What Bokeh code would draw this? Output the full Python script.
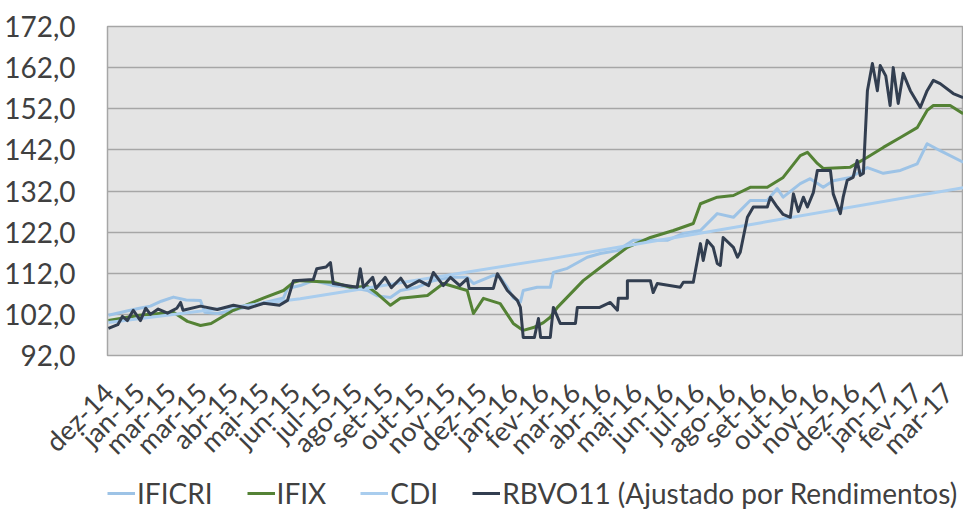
import math
from bokeh.plotting import figure
from bokeh.layouts import column
from bokeh.models import Range1d, FixedTicker, Legend, LegendItem
from bokeh.embed import file_html
from bokeh.resources import INLINE

# ---- data (x in category-label index units) ----
month_labels = ["dez-14", "jan-15", "mar-15", "mar-15", "abr-15", "mai-15", "jun-15",
                "jul-15", "ago-15", "set-15", "out-15", "nov-15", "dez-15", "jan-16",
                "fev-16", "mar-16", "abr-16", "mai-16", "jun-16", "jul-16", "ago-16",
                "set-16", "out-16", "nov-16", "dez-16", "jan-17", "fev-17", "mar-17"]

y_ticks = [92, 102, 112, 122, 132, 142, 152, 162, 172]
y_tick_labels = ["92,0", "102,0", "112,0", "122,0", "132,0", "142,0", "152,0", "162,0", "172,0"]

ificri_x = [0, 0.6, 1.0, 1.35, 1.7, 2.09, 2.5, 2.96, 3.1, 3.5, 4.02, 4.8, 5.63, 5.76, 6.17,
            6.59, 7.23, 7.78, 8.33, 8.65, 9.07, 9.39, 9.94, 10.45, 11.0, 11.54, 11.74, 12.38,
            12.6, 12.83, 13.02, 13.25, 13.34, 13.79, 14.21, 14.31, 14.76, 15.40, 15.82, 16.37,
            16.88, 17.43, 17.97, 18.49, 19.04, 19.58, 20.10, 20.64, 21.19, 21.51, 21.70, 22.25,
            22.57, 22.99, 23.31, 23.86, 24.41, 24.92, 25.47, 26.01, 26.33, 26.75, 27.49]
ificri_y = [101.8, 102.8, 103.5, 104.0, 105.2, 106.2, 105.5, 105.4, 102.5, 102.2, 103.0, 104.5,
            106.0, 108.3, 109.0, 110.2, 109.0, 108.6, 107.8, 106.5, 106.1, 107.8, 108.6, 110.2,
            111.0, 111.0, 109.5, 111.5, 111.0, 108.6, 106.0, 105.0, 107.8, 108.6, 108.6, 112.2,
            113.2, 115.9, 116.8, 117.5, 120.0, 120.0, 120.0, 121.7, 122.4, 126.5, 125.6, 129.7,
            129.7, 132.6, 130.5, 133.8, 135.0, 132.9, 134.5, 135.3, 137.7, 136.3, 137.0, 138.6,
            143.5, 141.8, 139.0]

ifix_x = [0, 1.0, 2.09, 2.54, 2.96, 3.3, 4.02, 5.0, 5.63, 5.95, 6.17, 7.23, 7.78, 8.33, 8.65,
          9.07, 9.39, 10.26, 10.77, 11.54, 11.74, 12.06, 12.6, 13.02, 13.34, 13.67, 13.99, 14.21,
          14.44, 15.27, 15.82, 16.69, 17.43, 18.17, 18.81, 19.04, 19.58, 20.10, 20.64, 21.19,
          21.70, 22.25, 22.48, 22.80, 22.99, 23.86, 24.41, 24.92, 25.47, 26.01, 26.33, 26.53,
          27.07, 27.49]
ifix_y = [100.5, 101.8, 102.5, 100.3, 99.3, 99.8, 103.0, 106.0, 107.8, 109.8, 110.2, 109.8,
          108.6, 108.8, 107.0, 104.2, 105.9, 106.6, 109.5, 107.8, 102.2, 105.9, 104.6, 99.8,
          98.1, 98.8, 100.0, 101.3, 103.7, 110.2, 113.4, 118.3, 120.7, 122.4, 124.1, 128.9,
          130.5, 130.9, 132.9, 132.9, 135.3, 140.6, 141.4, 138.7, 137.5, 137.8, 140.2, 142.6,
          145.0, 147.4, 151.6, 152.8, 152.8, 150.8]

cdi_x = [0, 6.17, 14.21, 21.0, 27.49]
cdi_y = [100.0, 105.8, 115.5, 124.3, 132.8]

rbvo_x = [0, 0.3, 0.45, 0.61, 0.8, 1.03, 1.2, 1.35, 1.6, 1.9, 2.2, 2.32, 2.4, 2.96, 3.5, 4.02,
          4.5, 5.0, 5.5, 5.76, 5.95, 6.59, 6.7, 7.0, 7.14, 7.23, 8.0, 8.10, 8.2, 8.5, 8.6, 8.9,
          9.1, 9.4, 9.6, 10.0, 10.3, 10.45, 10.77, 11.0, 11.3, 11.54, 11.6, 12.38, 12.51, 12.83,
          13.15, 13.25, 13.34, 13.7, 13.83, 13.9, 14.21, 14.31, 14.53, 15.02, 15.08, 15.8, 16.14,
          16.37, 16.40, 16.69, 16.69, 17.43, 17.52, 17.65, 18.39, 18.49, 18.81, 19.04, 19.13,
          19.26, 19.45, 19.58, 19.68, 19.77, 20.10, 20.23, 20.32, 20.55, 20.74, 21.19, 21.29,
          21.51, 21.70, 21.93, 22.03, 22.19, 22.35, 22.48, 22.67, 22.80, 23.22, 23.31, 23.54,
          23.63, 23.76, 23.95, 24.08, 24.18, 24.28, 24.41, 24.57, 24.73, 24.82, 25.0, 25.14,
          25.24, 25.40, 25.56, 25.79, 26.11, 26.33, 26.53, 26.75, 27.17, 27.49]
rbvo_y = [98.6, 99.5, 101.5, 100.5, 103.0, 100.5, 103.5, 102.0, 103.3, 102.3, 103.5, 104.9,
          103.0, 104.0, 103.2, 104.2, 103.5, 104.7, 104.2, 105.4, 110.2, 110.5, 113.1, 113.5,
          114.6, 109.5, 108.6, 113.1, 108.6, 111.0, 108.3, 111.0, 108.5, 110.8, 108.6, 110.2,
          109.0, 112.2, 109.0, 111.0, 109.0, 110.7, 108.3, 108.3, 111.9, 107.8, 105.4, 103.7,
          96.4, 96.4, 101.0, 96.4, 96.4, 103.7, 99.8, 99.8, 103.7, 103.7, 104.9, 103.0, 105.9,
          105.9, 110.2, 110.2, 107.3, 109.5, 108.6, 109.8, 109.8, 119.2, 115.1, 120.0, 118.3,
          114.4, 113.9, 120.7, 118.3, 115.9, 117.1, 125.6, 128.1, 128.1, 130.5, 128.1, 126.3,
          125.6, 131.3, 127.0, 130.5, 128.1, 131.6, 137.0, 137.0, 131.3, 126.5, 130.5, 134.6,
          135.3, 139.4, 135.8, 136.3, 156.4, 163.0, 156.4, 162.5, 160.0, 152.8, 162.0, 153.3,
          160.6, 156.4, 152.3, 156.4, 158.9, 158.1, 155.7, 154.7]

series_names = ["IFICRI", "IFIX", "CDI", "RBVO11 (Ajustado por Rendimentos)"]
series_colors = ["#9dc3e6", "#548235", "#a9cdee", "#323e50"]

FONT = "Lato"
TEXT = "#404040"

p = figure(frame_width=856, frame_height=329, output_backend="svg", toolbar_location=None,
           x_range=Range1d(-0.03, 27.5), y_range=Range1d(92, 172),
           min_border_left=107, min_border_right=0, min_border_top=26, min_border_bottom=119,
           background_fill_color="#e4e4e4", border_fill_color="white",
           outline_line_color="#a6a6a6", outline_line_width=1.5)

series = [(ificri_x, ificri_y), (ifix_x, ifix_y), (cdi_x, cdi_y), (rbvo_x, rbvo_y)]
for (xs, ys), c in zip(series, series_colors):
    p.line(xs, ys, line_color=c, line_width=3, line_join="round")

# axes
p.xaxis.ticker = FixedTicker(ticks=list(range(len(month_labels))))
p.xaxis.major_label_overrides = {i: lab for i, lab in enumerate(month_labels)}
p.xaxis.major_label_orientation = math.pi / 4
p.xaxis.axis_line_color = None
p.xaxis.major_tick_line_color = None
p.xaxis.minor_tick_line_color = None
p.xaxis.major_label_text_font = FONT
p.xaxis.major_label_text_font_size = "27px"
p.xaxis.major_label_text_color = TEXT
p.xaxis.major_label_standoff = 26

p.yaxis.ticker = FixedTicker(ticks=y_ticks)
p.yaxis.major_label_overrides = {t: lab for t, lab in zip(y_ticks, y_tick_labels)}
p.yaxis.axis_line_color = None
p.yaxis.major_tick_line_color = None
p.yaxis.minor_tick_line_color = None
p.yaxis.major_label_text_font = FONT
p.yaxis.major_label_text_font_size = "28px"
p.yaxis.major_label_text_color = TEXT
p.yaxis.major_label_standoff = 26

p.xgrid.visible = False
p.ygrid.ticker = FixedTicker(ticks=y_ticks)
p.ygrid.grid_line_color = "#a6a6a6"
p.ygrid.grid_line_width = 1.5

# legend strip underneath (own small figure, no axes, so it is not clipped)
lf = figure(width=963, height=37, output_backend="svg", toolbar_location=None,
            x_axis_location=None, y_axis_location=None,
            x_range=Range1d(0, 1), y_range=Range1d(0, 1), min_border=0,
            outline_line_color=None, border_fill_color="white", background_fill_color="white")
lf.grid.visible = False
items = []
for (xs, ys), n, c in zip(series, series_names, series_colors):
    r = lf.line(xs, ys, line_color=c, line_width=3)   # data lies outside this strip's ranges
    items.append(LegendItem(label=n, renderers=[r]))
legend = Legend(items=items, orientation="horizontal", location=(0, 1),
                label_text_font=FONT, label_text_font_size="28px", label_text_color=TEXT,
                glyph_width=28, glyph_height=20, label_standoff=2, spacing=34,
                padding=0, margin=0, border_line_color=None, background_fill_alpha=0)
lf.add_layout(legend, "center")

layout = column(p, lf, spacing=0)
open("out.html", "w").write(file_html(layout, INLINE))
